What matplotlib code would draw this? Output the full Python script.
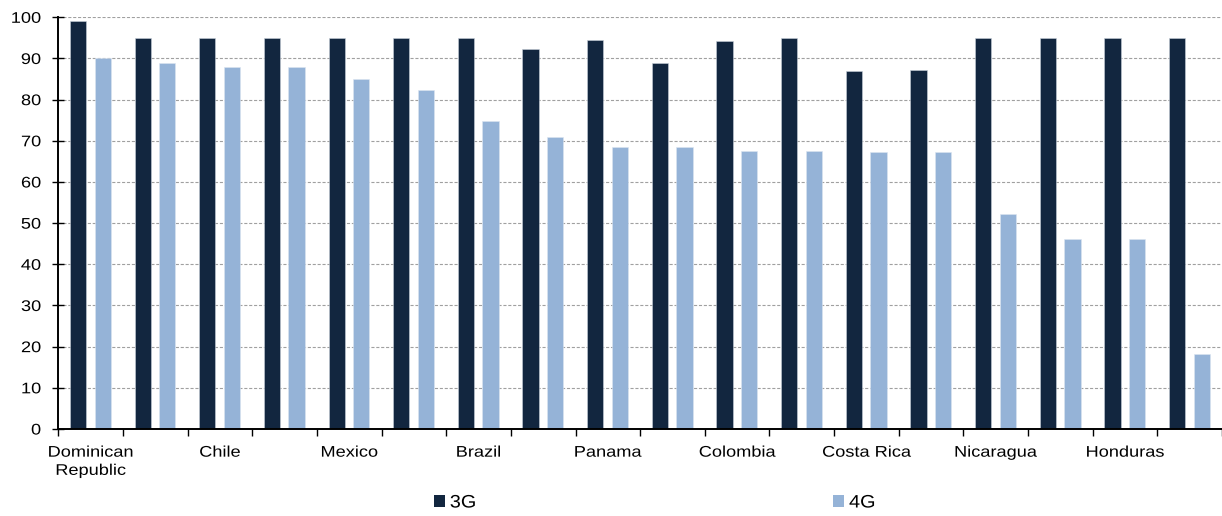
import matplotlib
matplotlib.use("Agg")
import matplotlib.pyplot as plt
from matplotlib.patches import Patch
from matplotlib.patheffects import AbstractPathEffect
from matplotlib.transforms import Affine2D
import numpy as np

# Mobile network coverage (% of population) by country
countries = ["Dominican\nRepublic", "", "Chile", "", "Mexico", "", "Brazil", "",
             "Panama", "", "Colombia", "", "Costa Rica", "", "Nicaragua", "",
             "Honduras", ""]
cov_3g = [99, 95, 95, 95, 95, 95, 95, 92.4, 94.5, 88.8, 94.2, 95, 87.0, 87.1,
          95, 95, 95, 95]
cov_4g = [90, 89, 88, 88, 85, 82.3, 74.9, 71.0, 68.4, 68.4, 67.6, 67.6, 67.3,
          67.2, 52.3, 46.2, 46.2, 18.2]
series_names = ["3G", "4G"]
y_ticks = list(range(0, 101, 10))

color_3g = "#12263f"
color_4g = "#95b3d7"


class HStretch(AbstractPathEffect):
    """Widen glyphs horizontally about a chosen anchor of each text line."""

    def __init__(self, sx, anchor="center"):
        super().__init__()
        self.sx = sx
        self.anchor = anchor

    def draw_path(self, renderer, gc, tpath, affine, rgbFace=None):
        ext = tpath.get_extents()
        if self.anchor == "center":
            cx = 0.5 * (ext.x0 + ext.x1)
        elif self.anchor == "right":
            cx = ext.x1
        else:
            cx = ext.x0
        t = Affine2D().translate(-cx, 0).scale(self.sx, 1).translate(cx, 0) + affine
        renderer.draw_path(gc, tpath, t, rgbFace)


SX = 1.18
plt.rcParams["font.family"] = ["Liberation Sans", "DejaVu Sans"]

W, H = 1222, 516
fig = plt.figure(figsize=(W / 100, H / 100), dpi=100)
left = 58.3 / W
bottom = 1 - 429 / H
top = 1 - 17.3 / H
ax = fig.add_axes([left, bottom, 1.0 - left, top - bottom])

x = np.arange(len(countries))
bw = 0.251
ax.bar(x - 0.195, cov_3g, width=bw, color=color_3g, edgecolor="#c8d0da",
       linewidth=0.4, zorder=3)
ax.bar(x + 0.186, cov_4g, width=bw, color=color_4g, edgecolor="#dbe5f1",
       linewidth=0.4, zorder=3)

ax.set_xlim(-0.5, 17.43)
ax.set_ylim(0, 100)
ax.set_yticks(y_ticks)
ax.tick_params(axis="y", labelsize=11.1, length=8, width=1, direction="inout",
               pad=8.4, colors="black")

# labels centred on categories, tick marks on category boundaries
ax.set_xticks(x)
ax.set_xticklabels(countries, fontsize=11.1, linespacing=1.38)
ax.tick_params(axis="x", which="major", length=0, pad=12)
ax.set_xticks(np.arange(-0.5, 18, 1.0), minor=True)
ax.tick_params(axis="x", which="minor", length=5, width=1, direction="out")

for lab in ax.get_xticklabels():
    lab.set_path_effects([HStretch(SX, "center")])
for lab in ax.get_yticklabels():
    lab.set_path_effects([HStretch(SX, "right")])

for v in y_ticks[1:]:
    ax.axhline(v, color="#a0a0a0", linewidth=0.8, linestyle=(0, (2.8, 1.6)),
               zorder=1)

for s in ["top", "right"]:
    ax.spines[s].set_visible(False)
for s in ["left", "bottom"]:
    ax.spines[s].set_linewidth(1.4)
    ax.spines[s].set_color("black")
    ax.spines[s].set_zorder(4)

handles = [Patch(facecolor=color_3g), Patch(facecolor=color_4g)]
leg = fig.legend(handles, series_names, loc="center left", ncol=2,
                 bbox_to_anchor=(434 / W, 1 - 503 / H), frameon=False,
                 fontsize=13, handlelength=0.6, handleheight=0.6,
                 handletextpad=0.28, columnspacing=19.9, borderpad=0,
                 borderaxespad=0)
for t in leg.get_texts():
    t.set_path_effects([HStretch(1.1, "left")])

fig.savefig("out.png", dpi=100)
